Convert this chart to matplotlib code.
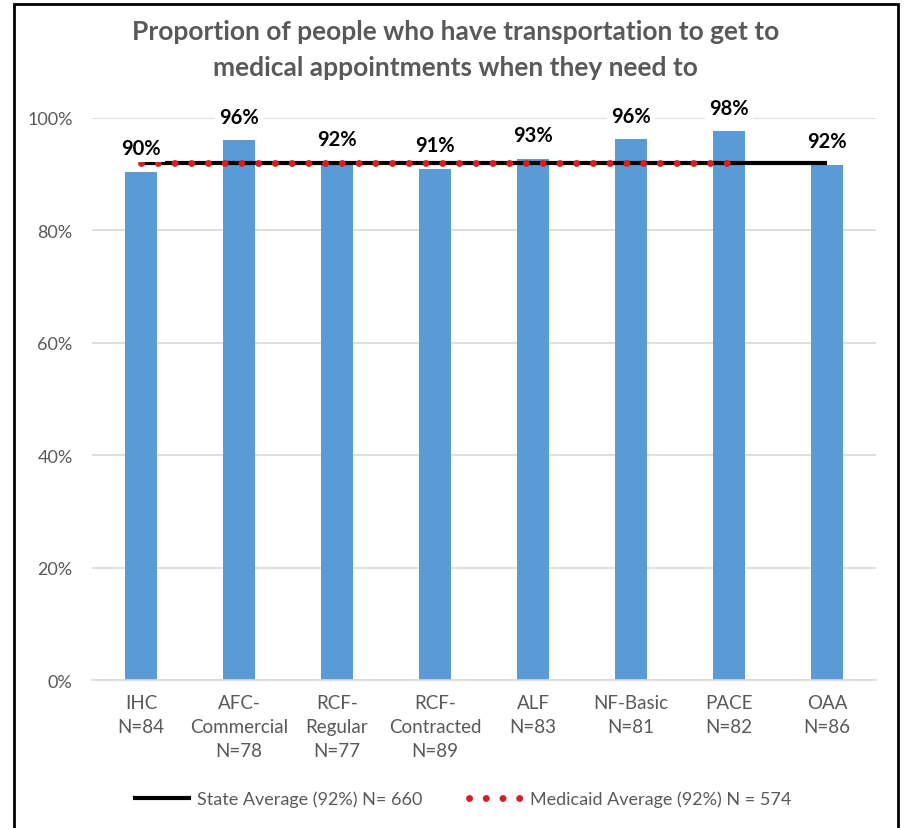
import matplotlib.pyplot as plt
from matplotlib.lines import Line2D
from matplotlib.patches import Rectangle

# Program categories and sample sizes
programs = ["IHC", "AFC-\nCommercial", "RCF-\nRegular", "RCF-\nContracted",
            "ALF", "NF-Basic", "PACE", "OAA"]
sample_n = [84, 78, 77, 89, 83, 81, 82, 86]

# Share with transportation to medical appointments (%)
share = [90.4, 96.0, 92.0, 90.9, 92.7, 96.2, 97.6, 91.7]

# Reference averages (%)
state_avg = [92, 92, 92, 92, 92, 92, 92, 92]
medicaid_avg = [92, 92, 92, 92, 92, 92, 92]

BAR_COLOR = "#5B9BD5"
GRAY = "#595959"
RED = "#D42020"
DOTS = (0, (0.01, 2.4))

plt.rcParams["font.family"] = ["Lato", "DejaVu Sans"]


def main():
    fig = plt.figure(figsize=(9.05, 8.29), dpi=100)
    ax = fig.add_axes([0.1017, 0.1785, 0.8663, 0.678])

    x = list(range(len(programs)))
    ax.bar(x, share, width=0.33, color=BAR_COLOR, zorder=2)

    ax.plot(x, state_avg, color="black", lw=3.0, solid_capstyle="butt", zorder=3)
    ax.plot(x[:len(medicaid_avg)], medicaid_avg, color=RED, lw=5.0,
            linestyle=DOTS, dash_capstyle="round", zorder=4)

    for xi, v in zip(x, share):
        ax.annotate(f"{v:.0f}%", (xi, v), xytext=(0, 17), textcoords="offset points",
                    ha="center", va="center", fontsize=14.5, fontweight="bold",
                    color="black", zorder=5, annotation_clip=False,
                    bbox=dict(boxstyle="square,pad=0.2", fc="white", ec="none"))

    ax.set_xlim(-0.5, len(programs) - 0.5)
    ax.set_ylim(0, 100)
    ax.set_yticks([0, 20, 40, 60, 80, 100])
    ax.set_yticklabels([f"{t}%" for t in range(0, 101, 20)])
    ax.set_xticks(x)
    ax.set_xticklabels([f"{p}\nN={n}" for p, n in zip(programs, sample_n)],
                       linespacing=1.5)
    ax.tick_params(axis="x", length=0, labelsize=13.5, colors=GRAY, pad=10)
    ax.tick_params(axis="y", length=0, labelsize=13, colors=GRAY, pad=14)

    ax.grid(axis="y", color="#D9D9D9", lw=1.2, zorder=0)
    ax.set_axisbelow(True)
    for side in ["top", "right", "left"]:
        ax.spines[side].set_visible(False)
    ax.spines["bottom"].set_color("#D9D9D9")
    ax.spines["bottom"].set_linewidth(1.2)

    fig.text(0.503, 0.961, "Proportion of people who have transportation to get to",
             ha="center", va="center", fontsize=19, fontweight="bold", color=GRAY)
    fig.text(0.503, 0.918, "medical appointments when they need to",
             ha="center", va="center", fontsize=19, fontweight="bold", color=GRAY)

    handles = [
        Line2D([], [], color="black", lw=3.0),
        Line2D([], [], color=RED, lw=5.0, linestyle=DOTS, dash_capstyle="round"),
    ]
    labels = ["State Average (92%) N= 660", "Medicaid Average (92%) N = 574"]
    fig.legend(handles, labels, loc="center", bbox_to_anchor=(0.512, 0.035), ncol=2,
               frameon=False, fontsize=13, labelcolor=GRAY, handlelength=3.0,
               handletextpad=0.4, columnspacing=2.6)

    # Outer frame around the chart
    fig.patches.append(Rectangle((14 / 905, -0.05), 884 / 905, 1.05 - 5 / 829,
                                 transform=fig.transFigure, fill=False,
                                 ec="black", lw=2.0))

    fig.savefig("out.png", dpi=100)


if __name__ == "__main__":
    main()
